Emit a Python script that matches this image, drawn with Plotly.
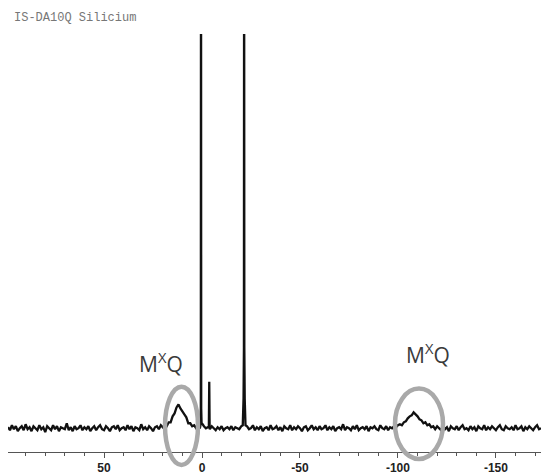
import plotly.graph_objects as go

# ---- spectrum data (chemical shift in ppm, intensity in arbitrary units) ----
ppm_a = list(range(99, 20, -1))
int_a = [1, -2, 3, -1, 2, -3, 0, 2, -2, 4, -1, 1, -3, 2, 0, -2, 3, -1, 1, -4,
         2, 0, -2, 3, -1, 2, -3, 1, 0, -1, 5, -2, 1, -3, 2, -1, 0, 3, -2, 1,
         -1, 2, -3, 0, 2, -2, 1, 3, -1, -2, 2, 0, -3, 1, 2, -1, 3, -2, 0, 1,
         -2, 3, -1, 2, -3, 1, 0, -2, 4, -1, 1, -2, 2, 0, -3, 1, 2, -1, 3]

ppm_b = list(range(20, 0, -1))
int_b = [1, 3, 2, 6, 6, 12, 15, 21, 24, 20, 17, 14, 11, 5, 5, 2, 3, 0, 2, 1]

ppm_p1 = [0.8, 0.6, 0.5, 0.4, 0.2]
int_p1 = [3, 20, 600, 20, 4]

ppm_c = [0, -1, -2, -3]
int_c = [5, 2, 0, 1]

ppm_p2 = [-3.5, -3.7, -3.9]
int_p2 = [1, 47, 0]

ppm_d = list(range(-4, -21, -1))
int_d = [-1, 2, 0, -2, 1, -1, 2, -2, 0, 1, -1, 2, -2, 1, 0, -1, 2]

ppm_p3 = [-20.8, -21.2, -21.4, -21.5, -21.6, -21.8, -22.2]
int_p3 = [3, 30, 82, 600, 82, 30, 3]

ppm_e = list(range(-23, -98, -1))
int_e = [2, -1, 0, 3, -2, 1, -1, 2, -3, 0, 1, -2, 3, -1, 0, 2, -2, 1, -3, 2,
         0, -1, 3, -2, 1, -1, 2, 0, -3, 1, 2, -2, 0, 3, -1, 1, -2, 2, -1, 0,
         3, -2, 1, -1, 2, -3, 0, 1, -1, 4, -2, 1, 0, -2, 2, -1, 3, -2, 0, 1,
         -1, 2, -3, 1, 0, 2, -1, -2, 3, 0, -1, 2, -2, 1, 0]

ppm_f = list(range(-98, -119, -1))
int_f = [2, 1, 3, 4, 3, 6, 7, 10, 12, 13, 16, 14, 12, 9, 8, 5, 6, 3, 4, 1, 2]

ppm_g = list(range(-119, -174, -1))
int_g = [-1, 2, 0, -2, 3, -1, 1, -3, 2, 0, -1, 2, -2, 1, 3, -1, 0, -2, 2, -1,
         1, -3, 2, 0, -1, 3, -2, 1, -1, 2, 0, -2, 1, 3, -1, -2, 2, 0, -1, 1,
         -2, 3, -1, 0, 2, -3, 1, -1, 2, 0, -2, 1, 3, -1, 0]

ppm = ppm_a + ppm_b + ppm_p1 + ppm_c + ppm_p2 + ppm_d + ppm_p3 + ppm_e + ppm_f + ppm_g
intensity = int_a + int_b + int_p1 + int_c + int_p2 + int_d + int_p3 + int_e + int_f + int_g

tick_vals = [50, 0, -50, -100, -150]
tick_text = ["50", "0", "-50", "-100", "-150"]
title_text = "IS-DA10Q Silicium"
label_text = "M<sup>X</sup>Q"

# ---- layout geometry (pixels) ----
W, H = 541, 475
ML, MR, MT, MB = 8, 0, 34, 19
PW, PH = W - ML - MR, H - MT - MB


def px(xp):
    return (xp - ML) / PW


def py(yp):
    return (H - MB - yp) / PH


fig = go.Figure()
fig.add_trace(go.Scatter(
    x=ppm, y=intensity, mode="lines",
    line=dict(color="#111111", width=2.3, simplify=False),
    hoverinfo="skip", showlegend=False,
))

ell_style = dict(type="circle", xref="paper", yref="paper",
                 line=dict(color="#a9a9a9", width=4.5), layer="above")
fig.add_shape(x0=px(165), x1=px(198), y0=py(469), y1=py(390), **ell_style)
fig.add_shape(x0=px(395), x1=px(443), y0=py(463), y1=py(392), **ell_style)

lab_font = dict(family="Open Sans", size=21, color="#3a3a3a")
fig.add_annotation(x=px(161), y=py(366), xref="paper", yref="paper",
                   text=label_text, showarrow=False, font=lab_font,
                   xanchor="center", yanchor="middle")
fig.add_annotation(x=px(428), y=py(357), xref="paper", yref="paper",
                   text=label_text, showarrow=False, font=lab_font,
                   xanchor="center", yanchor="middle")

fig.add_annotation(x=px(12), y=py(18), xref="paper", yref="paper",
                   text=title_text, showarrow=False,
                   font=dict(family="Liberation Mono", size=12, color="#777777"),
                   xanchor="left", yanchor="middle")

fig.update_layout(
    width=W, height=H,
    margin=dict(l=ML, r=MR, t=MT, b=MB, pad=0),
    paper_bgcolor="white", plot_bgcolor="white",
    xaxis=dict(
        range=[99, -173], showgrid=False, zeroline=False,
        showline=True, linecolor="#555555", linewidth=1,
        ticks="outside", ticklen=5, tickwidth=1, tickcolor="#555555",
        tickvals=tick_vals, ticktext=tick_text,
        tickfont=dict(family="Liberation Sans", size=12, color="#222222", weight="bold"),
        minor=dict(dtick=10, tick0=0, ticks="outside", ticklen=3,
                   tickcolor="#555555", tickwidth=1, showgrid=False),
    ),
    yaxis=dict(range=[-24, 398], visible=False, showgrid=False, zeroline=False),
)

fig.write_html("out.html", config={"displayModeBar": False},
               post_script="document.body.style.margin='0';document.body.style.overflow='hidden';")
